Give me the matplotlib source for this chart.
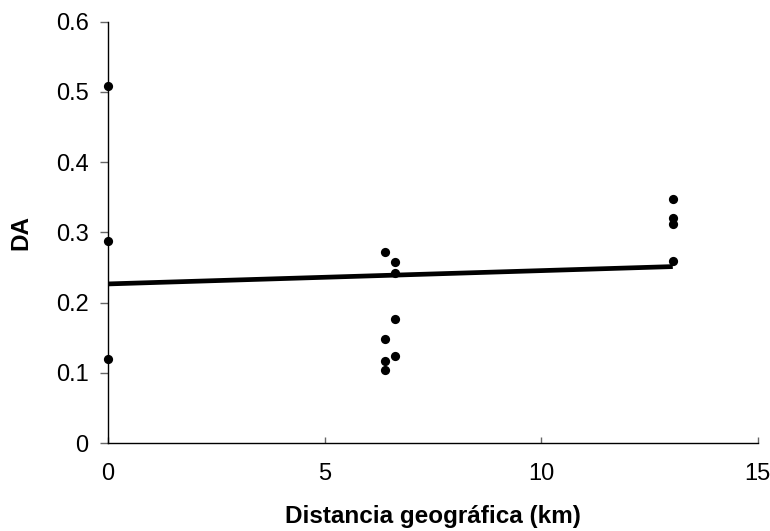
import numpy as np
import matplotlib
matplotlib.use("Agg")
import matplotlib.pyplot as plt

plt.rcParams['font.family'] = ['Liberation Sans', 'DejaVu Sans']

# Data
distance_km = [0.0, 0.0, 0.0,
               6.40, 6.40, 6.40, 6.40,
               6.62, 6.62, 6.62, 6.62,
               13.04, 13.04, 13.04, 13.04]
da_values = [0.508, 0.288, 0.120,
             0.272, 0.148, 0.117, 0.104,
             0.258, 0.242, 0.177, 0.124,
             0.347, 0.320, 0.312, 0.259]

x_ticks = [0, 5, 10, 15]
y_ticks = [0, 0.1, 0.2, 0.3, 0.4, 0.5, 0.6]
y_ticklabels = ['0', '0.1', '0.2', '0.3', '0.4', '0.5', '0.6']

fig = plt.figure(figsize=(7.7, 5.31), dpi=100)
ax = fig.add_axes([0.1403, 0.1657, 0.8437, 0.7934])

x = np.array(distance_km)
y = np.array(da_values)
slope, intercept = np.polyfit(x, y, 1)
xl = np.array([x.min(), x.max()])
ax.plot(xl, intercept + slope * xl, color='black', lw=3.4, solid_capstyle='butt', zorder=2)

ax.scatter(x, y, s=44, color='black', zorder=3, clip_on=False, linewidths=0)

ax.set_xlim(0, 15)
ax.set_ylim(0, 0.6)
ax.set_xticks(x_ticks)
ax.set_xticklabels([str(t) for t in x_ticks])
ax.set_yticks(y_ticks)
ax.set_yticklabels(y_ticklabels)

for s in ['top', 'right']:
    ax.spines[s].set_visible(False)
for s in ['left', 'bottom']:
    ax.spines[s].set_color('black')
    ax.spines[s].set_linewidth(1.0)

ax.tick_params(axis='x', direction='in', length=4.5, width=1, color='#666666',
               labelsize=17, pad=14.5)
ax.tick_params(axis='y', direction='out', length=6, width=1, color='#666666',
               labelsize=17, pad=8)

ax.set_xlabel('Distancia geográfica (km)', fontsize=17.5, fontweight='bold', labelpad=14.5)
ax.set_ylabel('DA', fontsize=17.5, fontweight='bold', labelpad=17)

fig.savefig('out.png', dpi=100)
